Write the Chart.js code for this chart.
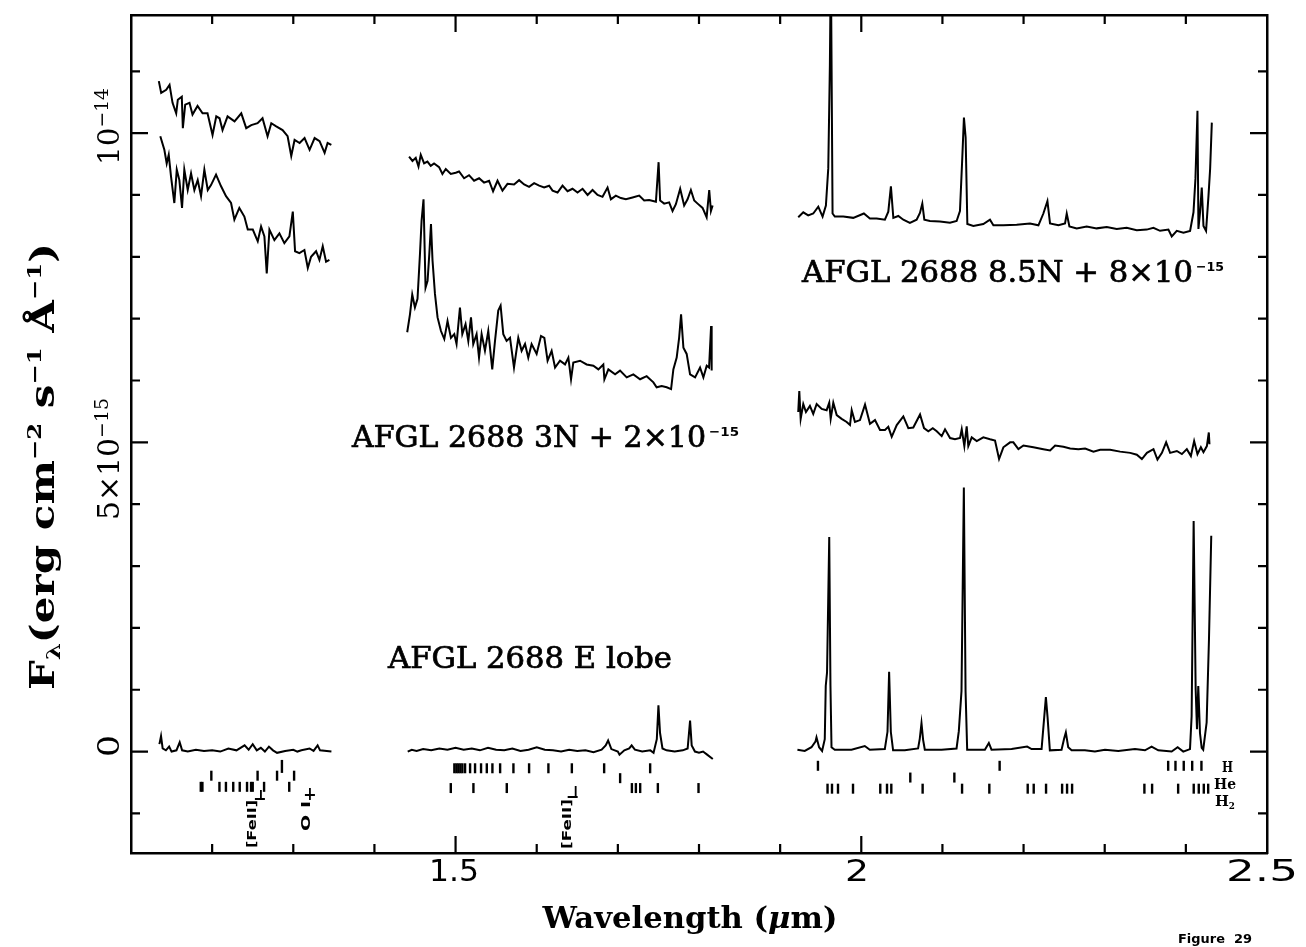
<!DOCTYPE html>
<html>
<head>
<meta charset="utf-8">
<title>AFGL 2688 near-infrared spectra</title>
<script src="https://cdn.jsdelivr.net/npm/chart.js@4.4.1/dist/chart.umd.min.js"></script>
<style>
  html, body { margin: 0; padding: 0; background: #ffffff; }
  #wrap { width: 1306px; height: 947px; position: relative; }
</style>
</head>
<body>
<div id="wrap"><canvas id="c" width="1306" height="947"></canvas></div>
<script>
// Flux in units of 1e-15 erg cm^-2 s^-1 A^-1 (offsets already applied), wavelength in micron.

// ---- AFGL 2688 8.5N + 8e-15 ----
const jBand85N = [[1.1343,10.84],[1.1372,10.65],[1.1434,10.70],[1.1475,10.78],[1.1512,10.49],[1.1557,10.32],[1.1577,10.54],[1.1626,10.59],[1.1639,10.08],[1.1668,10.46],[1.1721,10.49],[1.1758,10.30],[1.1820,10.44],[1.1882,10.32],[1.1943,10.32],[1.2005,9.97],[1.2051,10.27],[1.2091,10.24],[1.2128,10.05],[1.2190,10.27],[1.2276,10.19],[1.2359,10.32],[1.2420,10.08],[1.2482,10.13],[1.2560,10.16],[1.2621,10.24],[1.2683,9.95],[1.2729,10.16],[1.2790,10.11],[1.2868,10.05],[1.2930,9.95],[1.2975,9.63],[1.3016,9.89],[1.3078,9.84],[1.3139,9.92],[1.3201,9.73],[1.3263,9.92],[1.3324,9.87],[1.3386,9.68],[1.3423,9.84],[1.3469,9.81]];
const hBand85N = [[1.4427,9.62],[1.4469,9.55],[1.4509,9.60],[1.4543,9.46],[1.4571,9.65],[1.4612,9.51],[1.4653,9.54],[1.4694,9.47],[1.4735,9.51],[1.4797,9.45],[1.4838,9.34],[1.4879,9.42],[1.4941,9.34],[1.5002,9.36],[1.5043,9.38],[1.5105,9.27],[1.5166,9.32],[1.5228,9.23],[1.5290,9.27],[1.5351,9.20],[1.5413,9.23],[1.5462,9.06],[1.5517,9.23],[1.5578,9.07],[1.5640,9.18],[1.5721,9.17],[1.5783,9.24],[1.5845,9.17],[1.5906,9.13],[1.5968,9.19],[1.6030,9.15],[1.6091,9.12],[1.6153,9.15],[1.6195,9.07],[1.6257,9.04],[1.6318,9.15],[1.6380,9.06],[1.6441,9.10],[1.6503,9.04],[1.6565,9.10],[1.6627,9.00],[1.6688,9.08],[1.6750,9.00],[1.6811,8.97],[1.6873,9.12],[1.6914,8.93],[1.6975,8.99],[1.7037,8.95],[1.7099,8.93],[1.7181,8.96],[1.7263,8.99],[1.7324,8.91],[1.7386,8.92],[1.7469,8.89],[1.7502,9.53],[1.7521,8.91],[1.7571,8.86],[1.7632,8.88],[1.7674,8.74],[1.7715,8.85],[1.7768,9.10],[1.7817,8.83],[1.7859,8.93],[1.7900,9.08],[1.7941,8.91],[1.7983,8.86],[1.8044,8.79],[1.8094,8.64],[1.8126,9.08],[1.8147,8.74],[1.8168,8.83]];
const kBand85N = [[1.9223,8.64],[1.9285,8.72],[1.9346,8.67],[1.9408,8.70],[1.9470,8.81],[1.9523,8.65],[1.9564,8.83],[1.9593,9.43],[1.9613,11.10],[1.9625,12.80],[1.9646,8.70],[1.9674,8.65],[1.9778,8.65],[1.9901,8.63],[2.0032,8.70],[2.0106,8.62],[2.0189,8.62],[2.0291,8.60],[2.0333,8.73],[2.0365,9.14],[2.0395,8.63],[2.0456,8.66],[2.0518,8.60],[2.0599,8.55],[2.0682,8.60],[2.0723,8.71],[2.0752,8.86],[2.0777,8.60],[2.0846,8.58],[2.0969,8.57],[2.1093,8.55],[2.1175,8.58],[2.1216,8.74],[2.1245,9.61],[2.1265,10.25],[2.1286,9.93],[2.1307,8.53],[2.1381,8.50],[2.1504,8.53],[2.1586,8.60],[2.1628,8.51],[2.1751,8.51],[2.1915,8.52],[2.2079,8.54],[2.2183,8.51],[2.2244,8.70],[2.2294,8.90],[2.2326,8.54],[2.2429,8.51],[2.2511,8.54],[2.2532,8.70],[2.2565,8.49],[2.2655,8.46],[2.2778,8.49],[2.2901,8.46],[2.3025,8.48],[2.3148,8.45],[2.3271,8.47],[2.3395,8.43],[2.3518,8.44],[2.3600,8.47],[2.3682,8.42],[2.3785,8.44],[2.3826,8.33],[2.3888,8.42],[2.3970,8.39],[2.4052,8.42],[2.4094,8.72],[2.4118,9.26],[2.4143,10.36],[2.4155,8.45],[2.4175,8.72],[2.4196,9.12],[2.4217,8.50],[2.4249,8.42],[2.4279,8.99],[2.4299,9.42],[2.4320,10.17]];

// ---- AFGL 2688 3N + 2e-15 ----
const jBand3N = [[1.1361,9.95],[1.1411,9.73],[1.1440,9.51],[1.1465,9.65],[1.1493,9.30],[1.1534,8.87],[1.1564,9.41],[1.1596,9.24],[1.1629,8.79],[1.1657,9.41],[1.1699,9.08],[1.1740,9.35],[1.1781,9.08],[1.1822,9.24],[1.1863,8.98],[1.1904,9.41],[1.1946,9.08],[1.1986,9.16],[1.2048,9.33],[1.2110,9.14],[1.2171,8.98],[1.2233,8.87],[1.2274,8.60],[1.2335,8.79],[1.2397,8.65],[1.2439,8.44],[1.2501,8.44],[1.2562,8.25],[1.2603,8.49],[1.2644,8.33],[1.2673,7.73],[1.2706,8.44],[1.2767,8.27],[1.2829,8.38],[1.2890,8.22],[1.2952,8.33],[1.2994,8.73],[1.3022,8.09],[1.3075,8.06],[1.3137,8.11],[1.3179,7.82],[1.3219,8.00],[1.3281,8.09],[1.3322,7.95],[1.3363,8.17],[1.3404,7.92],[1.3445,7.95]];
const hBand3N = [[1.4404,6.78],[1.4438,7.07],[1.4466,7.39],[1.4499,7.18],[1.4531,7.32],[1.4561,8.04],[1.4581,8.58],[1.4605,8.93],[1.4630,7.50],[1.4655,7.61],[1.4676,8.04],[1.4697,8.53],[1.4716,7.94],[1.4746,7.40],[1.4778,7.02],[1.4820,6.80],[1.4861,6.67],[1.4901,6.96],[1.4943,6.69],[1.4984,6.75],[1.5012,6.59],[1.5054,7.18],[1.5083,6.75],[1.5123,6.91],[1.5157,6.64],[1.5190,7.02],[1.5218,6.59],[1.5259,6.75],[1.5289,6.37],[1.5321,6.75],[1.5362,6.48],[1.5403,6.80],[1.5452,6.18],[1.5486,6.64],[1.5526,7.13],[1.5555,7.21],[1.5588,6.75],[1.5629,6.64],[1.5671,6.69],[1.5720,6.21],[1.5773,6.69],[1.5814,6.48],[1.5856,6.59],[1.5896,6.37],[1.5937,6.59],[1.5999,6.43],[1.6053,6.72],[1.6094,6.69],[1.6134,6.32],[1.6184,6.48],[1.6226,6.21],[1.6287,6.32],[1.6349,6.26],[1.6390,6.37],[1.6423,6.02],[1.6451,6.29],[1.6534,6.32],[1.6615,6.26],[1.6698,6.24],[1.6760,6.18],[1.6821,6.26],[1.6834,6.02],[1.6883,6.18],[1.6966,6.10],[1.7027,6.16],[1.7109,6.05],[1.7191,6.10],[1.7274,6.02],[1.7355,6.07],[1.7438,5.97],[1.7478,5.89],[1.7540,5.91],[1.7602,5.89],[1.7656,5.86],[1.7684,6.18],[1.7725,6.37],[1.7755,6.69],[1.7779,7.07],[1.7808,6.53],[1.7848,6.43],[1.7890,6.10],[1.7952,6.05],[1.8013,6.21],[1.8054,6.05],[1.8095,6.24],[1.8124,6.21],[1.8149,6.88],[1.8156,6.16]];
const kBand3N = [[1.9223,5.49],[1.9236,5.83],[1.9253,5.38],[1.9285,5.62],[1.9318,5.49],[1.9367,5.59],[1.9408,5.46],[1.9450,5.62],[1.9512,5.54],[1.9573,5.52],[1.9605,5.64],[1.9623,5.38],[1.9655,5.64],[1.9697,5.44],[1.9758,5.38],[1.9820,5.33],[1.9861,5.28],[1.9882,5.52],[1.9922,5.33],[1.9984,5.36],[2.0046,5.61],[2.0107,5.30],[2.0169,5.36],[2.0231,5.20],[2.0292,5.20],[2.0333,5.25],[2.0375,5.09],[2.0437,5.28],[2.0518,5.42],[2.0580,5.23],[2.0641,5.24],[2.0724,5.45],[2.0773,5.23],[2.0826,5.18],[2.0881,5.23],[2.0930,5.18],[2.0991,5.10],[2.1032,5.21],[2.1094,5.07],[2.1155,5.05],[2.1217,5.07],[2.1238,5.21],[2.1270,4.94],[2.1299,5.26],[2.1319,4.94],[2.1361,5.08],[2.1423,5.02],[2.1504,5.08],[2.1587,5.05],[2.1648,5.03],[2.1698,4.73],[2.1751,4.92],[2.1834,5.00],[2.1874,5.00],[2.1936,4.89],[2.1998,4.95],[2.2121,4.92],[2.2244,4.89],[2.2327,4.87],[2.2389,4.95],[2.2491,4.93],[2.2574,4.90],[2.2676,4.89],[2.2759,4.90],[2.2861,4.85],[2.2944,4.88],[2.3067,4.88],[2.3190,4.85],[2.3314,4.83],[2.3396,4.80],[2.3458,4.73],[2.3520,4.83],[2.3601,4.89],[2.3650,4.72],[2.3705,4.83],[2.3757,5.00],[2.3806,4.83],[2.3889,4.86],[2.3951,4.81],[2.4012,4.89],[2.4062,4.78],[2.4102,5.02],[2.4143,4.81],[2.4185,4.92],[2.4217,4.84],[2.4259,4.94],[2.4283,5.16],[2.4291,4.97]];

// ---- AFGL 2688 E lobe ----
const jBandELobe = [[1.1350,0.12],[1.1370,0.25],[1.1390,0.05],[1.1430,0.02],[1.1470,0.08],[1.1500,0.00],[1.1560,0.02],[1.1600,0.15],[1.1630,0.02],[1.1700,0.00],[1.1800,0.03],[1.1900,0.01],[1.2000,0.02],[1.2100,0.00],[1.2200,0.05],[1.2300,0.02],[1.2400,0.10],[1.2450,0.03],[1.2500,0.12],[1.2550,0.02],[1.2600,0.06],[1.2650,0.00],[1.2700,0.08],[1.2750,0.02],[1.2800,-0.02],[1.2900,0.01],[1.3000,0.03],[1.3050,0.00],[1.3100,0.02],[1.3200,0.05],[1.3250,0.01],[1.3300,0.10],[1.3330,0.02],[1.3470,0.00]];
const hBandELobe = [[1.4410,0.00],[1.4460,0.03],[1.4520,0.01],[1.4600,0.04],[1.4700,0.02],[1.4800,0.05],[1.4900,0.03],[1.5000,0.06],[1.5100,0.03],[1.5200,0.05],[1.5300,0.02],[1.5400,0.06],[1.5500,0.03],[1.5600,0.02],[1.5700,0.05],[1.5800,0.01],[1.5900,0.03],[1.6000,0.07],[1.6100,0.03],[1.6200,0.02],[1.6300,0.00],[1.6400,0.03],[1.6500,0.01],[1.6600,0.02],[1.6700,-0.01],[1.6800,0.03],[1.6850,0.10],[1.6880,0.18],[1.6920,0.04],[1.7000,0.00],[1.7020,-0.05],[1.7080,0.02],[1.7140,0.05],[1.7170,0.10],[1.7210,0.03],[1.7300,0.00],[1.7400,0.02],[1.7440,-0.02],[1.7480,0.20],[1.7500,0.75],[1.7520,0.30],[1.7550,0.05],[1.7600,0.02],[1.7700,0.00],[1.7800,0.02],[1.7860,0.05],[1.7890,0.50],[1.7910,0.10],[1.7950,0.00],[1.8000,-0.02],[1.8050,0.00],[1.8100,-0.05],[1.8170,-0.12]];
const kBandELobe = [[1.9213,0.03],[1.9303,0.01],[1.9386,0.07],[1.9435,0.16],[1.9448,0.23],[1.9480,0.07],[1.9517,0.01],[1.9550,0.20],[1.9562,1.06],[1.9578,1.28],[1.9605,3.47],[1.9620,1.07],[1.9633,0.07],[1.9673,0.03],[1.9879,0.03],[2.0043,0.09],[2.0105,0.03],[2.0290,0.04],[2.0323,0.32],[2.0343,1.29],[2.0364,0.32],[2.0392,0.02],[2.0536,0.02],[2.0700,0.05],[2.0721,0.21],[2.0742,0.46],[2.0762,0.19],[2.0783,0.03],[2.0989,0.03],[2.1174,0.05],[2.1202,0.33],[2.1235,0.98],[2.1264,4.27],[2.1285,0.98],[2.1305,0.03],[2.1523,0.03],[2.1572,0.14],[2.1605,0.03],[2.1852,0.04],[2.2044,0.08],[2.2099,0.04],[2.2222,0.04],[2.2254,0.55],[2.2275,0.88],[2.2296,0.55],[2.2324,0.02],[2.2468,0.03],[2.2500,0.21],[2.2521,0.31],[2.2550,0.07],[2.2592,0.02],[2.2756,0.02],[2.2879,0.00],[2.3003,0.03],[2.3167,0.01],[2.3373,0.04],[2.3496,0.02],[2.3578,0.08],[2.3660,0.02],[2.3825,0.00],[2.3899,0.07],[2.3968,0.00],[2.4051,0.04],[2.4071,0.57],[2.4096,3.73],[2.4121,1.00],[2.4137,0.36],[2.4153,1.06],[2.4174,0.30],[2.4195,0.06],[2.4214,0.03],[2.4256,0.47],[2.4285,1.82],[2.4313,3.49]];

// ---- Line identifications (wavelengths of the tick rows under the spectra) ----
const idJRow    = [1.186, 1.188, 1.209, 1.217, 1.226, 1.234, 1.243, 1.248, 1.250, 1.264, 1.295];
const idJUpper  = [1.199, 1.256, 1.280, 1.301];
const idJTop    = [1.286];
const idHUpper  = [1.4985, 1.5010, 1.5034, 1.5059, 1.5084, 1.5117, 1.5179, 1.5240, 1.5314, 1.5385, 1.5454, 1.5549, 1.5713, 1.5906, 1.6144, 1.6433, 1.6831, 1.7398];
const idHMiddle = [1.7028];
const idHLower  = [1.4941, 1.5220, 1.5631, 1.7173, 1.7222, 1.7275, 1.7493, 1.7994];
const idKHydrogen = [1.9466, 2.1705, 2.3782, 2.3872, 2.3974, 2.4078, 2.4192];
const idKHelium   = [2.0604, 2.1147];
const idKMolecular = [1.9584, 1.9639, 1.9713, 1.9898, 2.0234, 2.0317, 2.0370, 2.0756, 2.1242, 2.1578, 2.2051, 2.2125, 2.2277, 2.2475, 2.2536, 2.2598, 2.3489, 2.3584, 2.3905, 2.4097, 2.4159, 2.4221, 2.4275];

// ---- Axes ----
const xRange = [1.1, 2.5];
const yRange = [-1.64, 11.91];
const xMinorTicks = [1.2, 1.3, 1.4, 1.6, 1.7, 1.8, 1.9, 2.1, 2.2, 2.3, 2.4];
const xMajorTicks = [1.5, 2.0];
const yMinorTicks = [-1, 1, 2, 3, 4, 6, 7, 8, 9, 11];
const yMajorTicks = [0, 5, 10];
const xTickLabels = ['1.5', '2', '2.5'];

const spectra = [jBand85N, hBand85N, kBand85N, jBand3N, hBand3N, kBand3N, jBandELobe, hBandELobe, kBandELobe];

const idRows = [
  { waves: idJRow, level: -0.57, half: 5 },
  { waves: idJUpper, level: -0.39, half: 5 },
  { waves: idJTop, level: -0.24, half: 6.5 },
  { waves: idHUpper, level: -0.27, half: 5 },
  { waves: idHMiddle, level: -0.43, half: 5 },
  { waves: idHLower, level: -0.59, half: 5 },
  { waves: idKHydrogen, level: -0.23, half: 5 },
  { waves: idKHelium, level: -0.42, half: 5 },
  { waves: idKMolecular, level: -0.60, half: 5 }
];

const datasets = spectra.map(seg => ({
  type: 'line',
  data: seg.map(([x, y]) => ({ x, y })),
  borderColor: '#000',
  borderWidth: 2,
  pointRadius: 0,
  tension: 0,
  fill: false
})).concat(idRows.map(row => ({
  type: 'scatter',
  data: row.waves.map(x => ({ x, y: row.level })),
  showLine: false,
  pointStyle: 'line',
  pointRotation: 90,
  pointRadius: row.half,
  pointBorderWidth: 2.4,
  pointBorderColor: '#000',
  pointBackgroundColor: '#000'
})));

// Draws a run of text pieces (for super/subscripts), stretched to a target length.
function drawRich(ctx, segs, x, y, opt) {
  ctx.save();
  const widths = segs.map(s => { ctx.font = s.font; return ctx.measureText(s.t).width; });
  const total = widths.reduce((a, b) => a + b, 0);
  const sx = opt.width ? opt.width / total : 1;
  ctx.translate(x, y);
  if (opt.rot) ctx.rotate(opt.rot);
  if (opt.align === 'center') ctx.translate(-total * sx / 2, 0);
  ctx.scale(sx, 1);
  ctx.fillStyle = '#000';
  ctx.strokeStyle = '#000';
  ctx.textBaseline = 'alphabetic';
  ctx.textAlign = 'left';
  let cx = 0;
  segs.forEach((s, i) => {
    ctx.font = s.font;
    ctx.fillText(s.t, cx, s.dy || 0);
    if (opt.stroke) { ctx.lineWidth = opt.stroke; ctx.strokeText(s.t, cx, s.dy || 0); }
    cx += widths[i];
  });
  ctx.restore();
}

function seg(t, font, dy) { return { t, font, dy }; }

const SERIF = '"DejaVu Serif", "Liberation Serif", serif';
const SANS = '"DejaVu Sans", "Liberation Sans", sans-serif';

const decorations = {
  id: 'decorations',
  afterDatasetsDraw(chart) {
    const ctx = chart.ctx;
    const { left, right, top, bottom } = chart.chartArea;
    const xs = chart.scales.x, ys = chart.scales.y;
    ctx.save();
    ctx.strokeStyle = '#000';
    ctx.lineWidth = 2.2;
    ctx.beginPath();
    const tick = (x1, y1, x2, y2) => { ctx.moveTo(x1, y1); ctx.lineTo(x2, y2); };
    xMinorTicks.forEach(v => { const p = xs.getPixelForValue(v); tick(p, bottom, p, bottom - 9); tick(p, top, p, top + 9); });
    xMajorTicks.forEach(v => { const p = xs.getPixelForValue(v); tick(p, bottom, p, bottom - 17); tick(p, top, p, top + 17); });
    yMinorTicks.forEach(v => { const p = ys.getPixelForValue(v); tick(left, p, left + 9, p); tick(right, p, right - 9, p); });
    yMajorTicks.forEach(v => { const p = ys.getPixelForValue(v); tick(left, p, left + 17, p); tick(right, p, right - 17, p); });
    ctx.stroke();

    // small connectors above the rotated identifications
    ctx.lineWidth = 1.8;
    ctx.beginPath();
    tick(xs.getPixelForValue(1.2601), 790, xs.getPixelForValue(1.2601), 799);
    tick(xs.getPixelForValue(1.2601) - 6, 799, xs.getPixelForValue(1.2601) + 4, 799);
    tick(xs.getPixelForValue(1.3205), 788, xs.getPixelForValue(1.3205), 800);
    tick(xs.getPixelForValue(1.3205) - 5, 795, xs.getPixelForValue(1.3205) + 5, 795);
    tick(xs.getPixelForValue(1.6480), 786, xs.getPixelForValue(1.6480), 797);
    tick(xs.getPixelForValue(1.6480) - 8, 797, xs.getPixelForValue(1.6480) + 2, 797);
    ctx.stroke();
    ctx.restore();

    const up = -Math.PI / 2;
    // x tick labels
    const xLabelCenters = [454, 857, 1262];
    const xLabelWidths = [50, 24, 72];
    xTickLabels.forEach((t, i) => drawRich(ctx, [seg(t, '30px ' + SANS)], xLabelCenters[i], 881, { width: xLabelWidths[i], align: 'center' }));

    // y tick labels (rotated)
    drawRich(ctx, [seg('0', '30px ' + SERIF)], 119, 746, { width: 22, align: 'center', rot: up });
    drawRich(ctx, [seg('5×10', '30px ' + SERIF), seg('−15', '19px ' + SERIF, -11)], 119, 520, { width: 122, rot: up });
    drawRich(ctx, [seg('10', '30px ' + SERIF), seg('−14', '19px ' + SERIF, -11)], 119, 165, { width: 77, rot: up });

    // axis titles
    drawRich(ctx, [
      seg('Wavelength (', 'bold 30px ' + SERIF),
      seg('μ', 'italic bold 30px ' + SERIF),
      seg('m)', 'bold 30px ' + SERIF)
    ], 690, 928, { width: 295, align: 'center' });
    drawRich(ctx, [
      seg('F', 'bold 33px ' + SERIF),
      seg('λ', 'bold 19px ' + SERIF, 6),
      seg('(erg cm', 'bold 33px ' + SERIF),
      seg('−2', 'bold 19px ' + SERIF, -13),
      seg(' s', 'bold 33px ' + SERIF),
      seg('−1', 'bold 19px ' + SERIF, -13),
      seg(' Å', 'bold 33px ' + SERIF),
      seg('−1', 'bold 19px ' + SERIF, -13),
      seg(')', 'bold 33px ' + SERIF)
    ], 54, 690, { width: 447, rot: up });

    // spectrum labels
    drawRich(ctx, [seg('AFGL 2688 8.5N + 8×10', '29px ' + SERIF)], 802, 282, { width: 391, stroke: 0.7 });
    drawRich(ctx, [seg('−15', 'bold 13px ' + SANS)], 1196, 271, { width: 28 });
    drawRich(ctx, [seg('AFGL 2688 3N + 2×10', '29px ' + SERIF)], 352, 447, { width: 354, stroke: 0.7 });
    drawRich(ctx, [seg('−15', 'bold 13px ' + SANS)], 709, 436, { width: 30 });
    drawRich(ctx, [seg('AFGL 2688 E lobe', '29px ' + SERIF)], 388, 668, { width: 284, stroke: 0.7 });

    // line identification labels
    drawRich(ctx, [seg('[FeII]', 'bold 12px ' + SANS)], 256, 848, { width: 48, rot: up });
    drawRich(ctx, [seg('O I', 'bold 12px ' + SANS)], 310, 831, { width: 30, rot: up });
    drawRich(ctx, [seg('[FeII]', 'bold 12px ' + SANS)], 571, 849, { width: 50, rot: up });
    drawRich(ctx, [seg('H', 'bold 15px ' + SERIF)], 1222, 772, { width: 11 });
    drawRich(ctx, [seg('He', 'bold 15px ' + SERIF)], 1214, 789, { width: 22 });
    drawRich(ctx, [seg('H', 'bold 15px ' + SERIF), seg('2', 'bold 9px ' + SERIF, 3)], 1215, 806, { width: 20 });

    drawRich(ctx, [seg('Figure  29', 'bold 13px ' + SANS)], 1178, 943, { width: 74 });
  }
};

const edgeAxis = (pos, horizontal, range) => ({
  type: 'linear',
  position: pos,
  min: range[0],
  max: range[1],
  ticks: { display: false },
  grid: { display: false, drawTicks: false },
  border: { display: true, color: '#000', width: 2.5 },
  afterFit(s) { if (horizontal) s.height = 0; else s.width = 0; }
});

new Chart(document.getElementById('c'), {
  data: { datasets },
  options: {
    responsive: false,
    animation: false,
    events: [],
    layout: { padding: { left: 131, right: 39, top: 15, bottom: 94 } },
    plugins: { legend: { display: false }, tooltip: { enabled: false } },
    scales: {
      x: edgeAxis('bottom', true, xRange),
      xTop: edgeAxis('top', true, xRange),
      y: edgeAxis('left', false, yRange),
      yRight: edgeAxis('right', false, yRange)
    }
  },
  plugins: [decorations]
});
</script>
</body>
</html>
